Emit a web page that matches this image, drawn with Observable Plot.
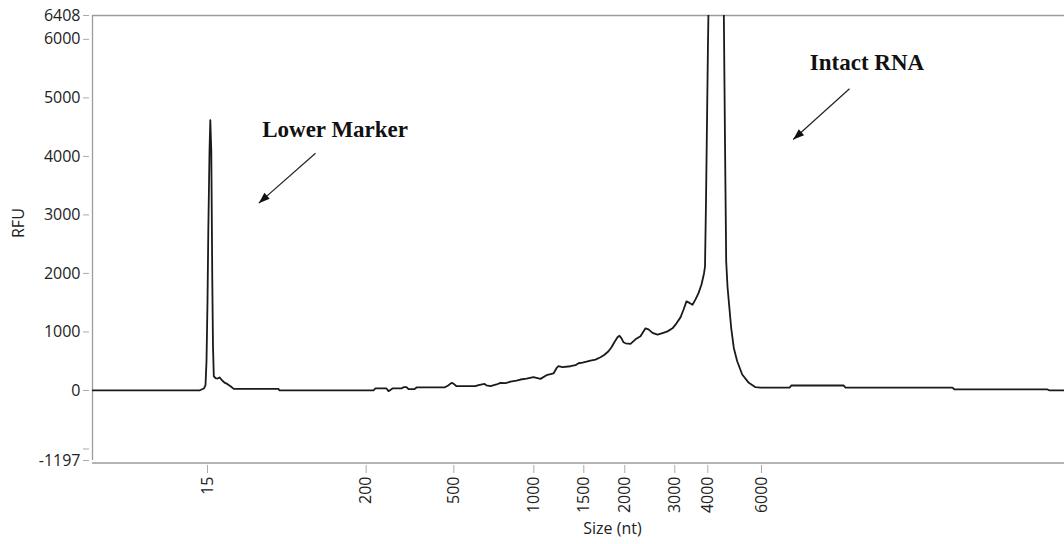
<!DOCTYPE html>
<html>
<head>
<meta charset="utf-8">
<script src="https://cdn.jsdelivr.net/npm/d3@7"></script>
<script src="https://cdn.jsdelivr.net/npm/@observablehq/plot@0.6"></script>
<style>
  html, body { margin: 0; padding: 0; background: #fff; }
  #chart svg { display: block; }
</style>
</head>
<body>
<div id="chart"></div>
<script>
// Migration time (s) and fluorescence (RFU)
const timeSec = [20.0,30.7,30.9,31.15,31.3,31.4,31.5,31.58,31.7,31.78,31.88,31.98,32.05,32.13,32.3,32.5,32.7,32.97,33.2,33.47,33.8,34.13,38.6,38.7,48.1,48.3,49.4,49.6,50.0,50.9,51.1,51.4,51.6,52.2,52.4,55.2,55.6,55.9,56.1,56.4,58.3,58.6,59.2,59.4,59.8,60.4,60.8,61.3,61.8,62.4,62.8,63.4,64.1,64.4,64.8,65.4,66.1,66.4,66.6,67.0,67.8,68.3,68.6,69.0,69.4,69.8,70.3,70.8,71.2,71.6,71.9,72.2,72.5,72.7,72.9,73.1,73.3,73.8,74.3,74.8,75.3,75.6,76.0,76.5,77.0,77.5,78.0,78.4,78.8,79.1,79.4,79.7,80.0,80.3,80.6,80.9,81.15,81.25,81.35,81.45,81.55,81.6,82.35,83.13,83.25,83.37,83.5,83.63,83.87,84.13,84.47,84.97,85.63,86.3,86.8,89.7,89.9,95.1,95.3,106.0,106.2,115.5,115.7,117.2];
const rfu = [0,0,17,34,90,500,1520,2715,4078,4620,4078,1862,755,244,210,204,222,170,133,112,73,27,27,0,0,34,34,-12,34,34,56,56,22,22,51,51,90,130,116,73,73,90,112,85,73,102,130,124,150,167,187,201,227,215,198,261,290,380,414,397,414,431,465,474,491,511,528,567,610,670,738,828,908,934,891,823,806,797,874,925,1062,1045,985,954,981,1010,1062,1147,1249,1380,1522,1496,1465,1556,1663,1811,1999,2118,3226,4589,5953,6500,15000,6500,4248,2203,1777,1522,1067,726,499,273,130,56,48,48,85,85,48,48,17,17,0,0];

// Ladder: size labels (nt) and their migration times
const sizeLabels = [15, 200, 500, 1000, 1500, 2000, 3000, 4000, 6000];
const ladderTimes = [31.5, 47.37, 56.13, 64.13, 69.13, 73.23, 78.23, 81.53, 86.9];

// Y axis ticks
const yTicks = [-1197, -1000, 0, 1000, 2000, 3000, 4000, 5000, 6000, 6408];
const yHidden = [-1000];
const xDomain = [20, 117.2];
const yDomain = [-1197, 6408];

// Annotations
const annLabels = ["Lower Marker", "Intact RNA"];
const annTextT = [36.97, 91.73];
const annTextR = [4460, 5605];
const arrowFromT = [42.3, 95.7];
const arrowFromR = [4055, 5156];
const arrowToT = [36.63, 90.07];
const arrowToR = [3201, 4290];

const trace = timeSec.map((t, i) => ({t, r: rfu[i]}));
const notes = annLabels.map((s, i) => ({s, t: annTextT[i], r: annTextR[i]}));
const arrows = annLabels.map((s, i) => ({t1: arrowFromT[i], r1: arrowFromR[i], t2: arrowToT[i], r2: arrowToR[i]}));

// filled arrowhead pointing down-left, tip at origin
const arrowHead = {
  draw(ctx) {
    ctx.moveTo(0, 0);
    ctx.lineTo(10.9, -4.3);
    ctx.lineTo(5.6, -10.3);
    ctx.closePath();
  }
};

const frameColor = "#9c9c9c";
const chart = Plot.plot({
  width: 1064,
  height: 544,
  marginLeft: 92,
  marginRight: 0,
  marginTop: 15,
  marginBottom: 84,
  style: {fontFamily: "'Open Sans', sans-serif", fontSize: "16px", color: "#222", background: "#fff"},
  x: {type: "linear", domain: xDomain},
  y: {type: "linear", domain: yDomain},
  marks: [
    Plot.ruleY([yDomain[1]], {stroke: frameColor, strokeWidth: 1.3}),
    Plot.ruleY([yDomain[0]], {stroke: frameColor, strokeWidth: 1.3, dy: 2.5}),
    Plot.ruleX([xDomain[0]], {stroke: frameColor, strokeWidth: 1.3, y1: yDomain[0], y2: yDomain[1], dy: 0}),
    Plot.axisY({ticks: yTicks, tickFormat: d => yHidden.includes(d) ? "" : String(d), tickSize: 6, dx: -3, tickPadding: 3, stroke: "#aaa", fill: "#222", label: null}),
    Plot.axisX({ticks: ladderTimes, tickFormat: (d, i) => String(sizeLabels[i]), tickSize: 8, dy: 5, tickPadding: 3, tickRotate: -90, stroke: "#aaa", fill: "#222", label: null}),
    Plot.text(["RFU"], {frameAnchor: "left", dx: -74, rotate: -90, fill: "#222"}),
    Plot.text(["Size (nt)"], {frameAnchor: "bottom", dx: 34, dy: 73, fill: "#222"}),
    Plot.line(trace, {x: "t", y: "r", stroke: "#1a1a1a", strokeWidth: 1.8, clip: true}),
    Plot.link(arrows, {x1: "t1", y1: "r1", x2: "t2", y2: "r2", stroke: "#222", strokeWidth: 1.2}),
    Plot.dot(arrows, {x: "t2", y: "r2", symbol: arrowHead, r: 5, fill: "#111", stroke: "none"}),
    Plot.text(notes, {x: "t", y: "r", text: "s", textAnchor: "start", lineAnchor: "middle", fontFamily: "'Liberation Serif', 'Times New Roman', serif", fontWeight: "bold", fontSize: 23, fill: "#111"})
  ]
});
document.getElementById("chart").appendChild(chart);
</script>
</body>
</html>
